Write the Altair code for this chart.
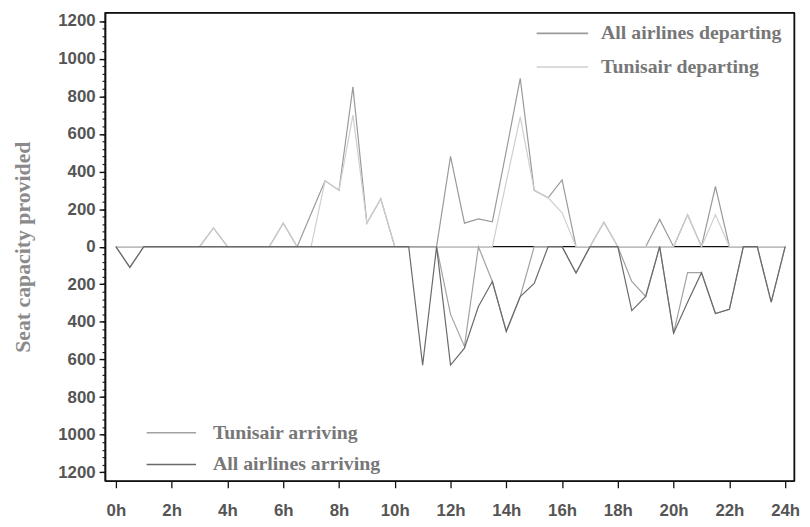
import altair as alt
import pandas as pd

# half-hour time steps, 0h .. 24h
hours = [i * 0.5 for i in range(49)]

all_departing = [0, 0, 0, 0, 0, 0, 0, 100, 0, 0, 0, 0, 125, 0, 175, 350, 300, 850, 125, 255,
                 0, 0, 0, 0, 480, 125, 148, 132, 510, 895, 300, 260, 355, 0, 0, 130, 0, 0, 0, 145,
                 0, 170, 0, 320, 0, 0, 0, 0, 0]
tunisair_departing = [0, 0, 0, 0, 0, 0, 0, 100, 0, 0, 0, 0, 125, 0, 0, 350, 300, 700, 125, 255,
                      0, 0, 0, 0, 0, 0, 0, 0, 345, 690, 300, 260, 180, 0, 0, 130, 0, 0, 0, 0,
                      0, 170, 0, 170, 0, 0, 0, 0, 0]
tunisair_arriving = [0, -110, 0, 0, 0, 0, 0, 0, 0, 0, 0, 0, 0, 0, 0, 0, 0, 0, 0, 0,
                     0, 0, 0, 0, -360, -530, 0, -185, -450, -265, 0, 0, 0, -140, 0, 0, 0, -185, -265, 0,
                     -460, -138, -138, -355, -333, 0, 0, -295, 0]
all_arriving = [0, -110, 0, 0, 0, 0, 0, 0, 0, 0, 0, 0, 0, 0, 0, 0, 0, 0, 0, 0,
                0, 0, -630, 0, -630, -540, -318, -185, -450, -265, -195, 0, 0, -140, 0, 0, 0, -340, -265, 0,
                -460, -295, -138, -355, -333, 0, 0, -295, 0]

dep_names = ["All airlines departing", "Tunisair departing"]
dep_colors = ["#9a9a9a", "#cfcfcf"]
arr_names = ["Tunisair arriving", "All airlines arriving"]
arr_colors = ["#a2a2a2", "#6a6a6a"]
x_ticks = list(range(0, 25, 2))
y_major = list(range(-1200, 1201, 200))
y_minor = list(range(-1200, 1201, 40))
baseline_hours = [0, 24]
baseline_seats = [0, 0]

dep_df = pd.concat([
    pd.DataFrame({"hour": hours, "seats": all_departing, "series": dep_names[0]}),
    pd.DataFrame({"hour": hours, "seats": tunisair_departing, "series": dep_names[1]}),
])
arr_df = pd.concat([
    pd.DataFrame({"hour": hours, "seats": tunisair_arriving, "series": arr_names[0]}),
    pd.DataFrame({"hour": hours, "seats": all_arriving, "series": arr_names[1]}),
])
zero_df = pd.DataFrame({"hour": baseline_hours, "seats": baseline_seats})

SANS = "Liberation Sans"
SERIF = "Liberation Serif"
LONG_STROKE = "M-2,0H2"
FRAME = "#111111"

x_scale = alt.Scale(domain=[-0.39, 24.32], nice=False, zero=False)
y_scale = alt.Scale(domain=[-1245, 1245], nice=False, zero=False)

x_main_enc = alt.X("hour:Q", scale=x_scale,
                   axis=alt.Axis(orient="bottom", values=x_ticks, labelExpr="datum.value + 'h'",
                                 title=None, grid=False, tickSize=7, tickWidth=1.3, tickColor=FRAME,
                                 domainColor=FRAME, domainWidth=1.4,
                                 labelFont=SANS, labelFontSize=17, labelFontWeight="bold",
                                 labelColor="#555555", labelPadding=15, labelFlush=False,
                                 labelOverlap=False))
x_top_enc = alt.X("hour:Q", scale=x_scale,
                  axis=alt.Axis(orient="top", labels=False, ticks=False, title=None, grid=False,
                                domainColor=FRAME, domainWidth=1.4))
x_plain_enc = alt.X("hour:Q", scale=x_scale, axis=None)

y_minor_enc = alt.Y("seats:Q", scale=y_scale,
                    axis=alt.Axis(orient="left", values=y_minor, labels=False, title=None, grid=False,
                                  tickSize=3, tickWidth=1.2, tickColor="#222222", domainColor=FRAME,
                                  domainWidth=1.4))
y_major_enc = alt.Y("seats:Q", scale=y_scale,
                    axis=alt.Axis(orient="left", values=y_major,
                                  labelExpr="format(abs(datum.value), 'd')",
                                  labelOverlap=False, labelFlush=False,
                                  title="Seat capacity provided", grid=False,
                                  tickSize=6, tickWidth=1.4, tickColor=FRAME, domainColor=FRAME,
                                  domainWidth=1.4,
                                  labelFont=SANS, labelFontSize=17, labelFontWeight="bold",
                                  labelColor="#555555", labelPadding=4,
                                  titleFont=SERIF, titleFontSize=22, titleFontWeight="bold",
                                  titleColor="#8a8a8a", titlePadding=23))
y_right_enc = alt.Y("seats:Q", scale=y_scale,
                    axis=alt.Axis(orient="right", labels=False, ticks=False, title=None, grid=False,
                                  domainColor=FRAME, domainWidth=1.4))

zero = alt.Chart(zero_df).mark_line(color="#111111", strokeWidth=1.3).encode(x=x_top_enc, y=y_minor_enc)

dep = alt.Chart(dep_df).mark_line(strokeWidth=1.2).encode(
    x=x_main_enc, y=y_major_enc,
    color=alt.Color("series:N", scale=alt.Scale(domain=dep_names, range=dep_colors),
                    legend=alt.Legend(title=None, orient="none", legendX=448, legendY=7,
                                      symbolType=LONG_STROKE, symbolSize=676, symbolStrokeWidth=1.6,
                                      labelFont=SERIF, labelFontSize=20, labelFontWeight="bold",
                                      labelColor="#777777", labelOffset=25, rowPadding=10,
                                      padding=0, labelLimit=400)),
)

arr = alt.Chart(arr_df).mark_line(strokeWidth=1.2).encode(
    x=x_plain_enc, y=y_right_enc,
    color=alt.Color("series:N", scale=alt.Scale(domain=arr_names, range=arr_colors),
                    legend=alt.Legend(title=None, orient="none", legendX=53.5, legendY=411,
                                      symbolType=LONG_STROKE, symbolSize=625, symbolStrokeWidth=1.6,
                                      labelFont=SERIF, labelFontSize=20, labelFontWeight="bold",
                                      labelColor="#777777", labelOffset=28.5, rowPadding=8,
                                      padding=0, labelLimit=400)),
)

chart = alt.layer(zero, dep, arr).resolve_scale(color="independent").resolve_axis(
    x="independent", y="independent").properties(
    width=696, height=473,
    background="white",
    autosize=alt.AutoSizeParams(type="none"),
    padding={"left": 98, "top": 2, "right": 8, "bottom": 40},
).configure_view(stroke=FRAME, strokeWidth=1.4)

chart.save("out.html", embed_options={"renderer": "svg", "actions": False})
